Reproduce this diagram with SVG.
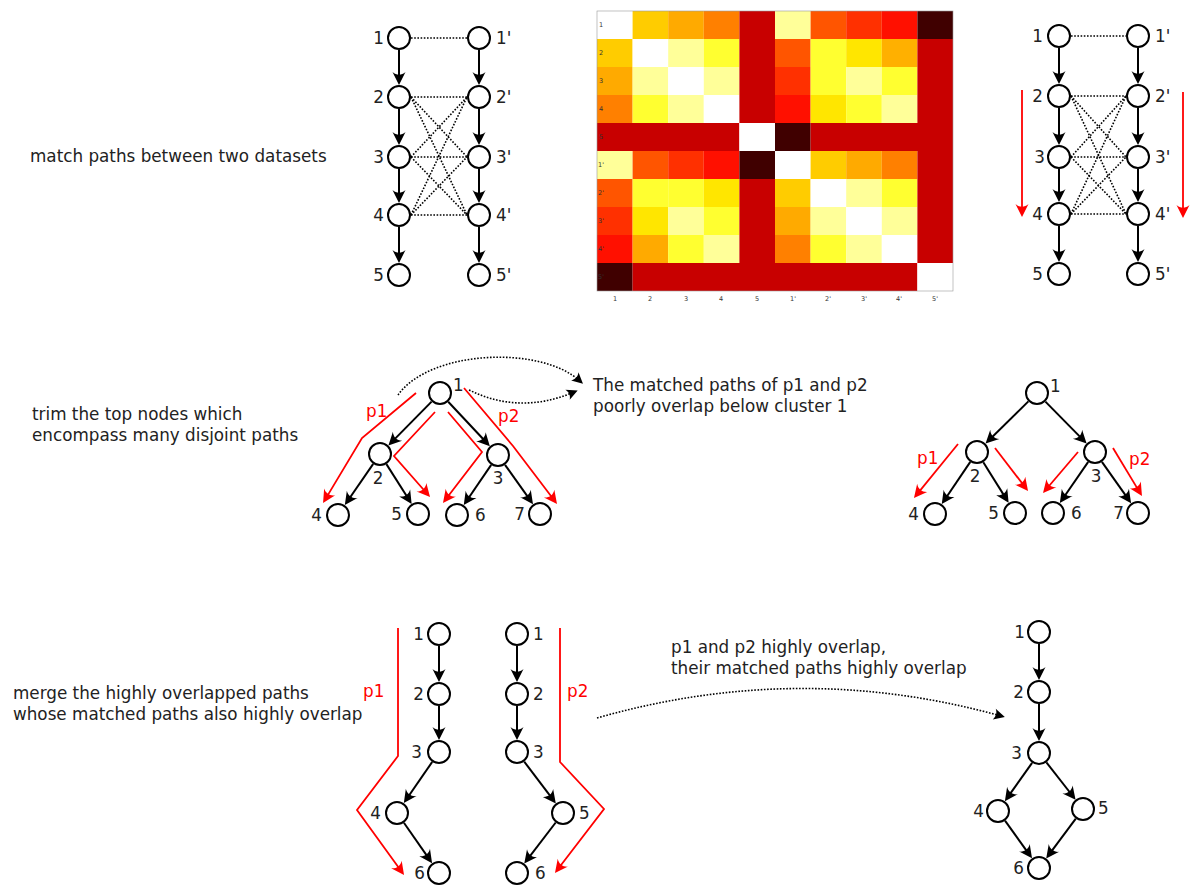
<svg xmlns="http://www.w3.org/2000/svg" width="1192" height="886" viewBox="0 0 1192 886">
<style>
text{font-family:"DejaVu Sans","Liberation Sans",sans-serif;font-size:16.8px;fill:#222}
.n{fill:#fff;stroke:#000;stroke-width:2}
.e{fill:none;stroke:#000;stroke-width:2;marker-end:url(#ah)}
.d{fill:none;stroke:#000;stroke-width:1.6;stroke-dasharray:1.6 1.6}
.da{fill:none;stroke:#000;stroke-width:1.6;stroke-dasharray:1.6 1.6;marker-end:url(#ahs)}
.r{fill:none;stroke:#f00;stroke-width:1.8;marker-end:url(#ahr)}
.rt{fill:#f00}
.tk{font-size:6.5px;fill:#333;text-anchor:middle}
.s{text-anchor:start}.m{text-anchor:middle}.en{text-anchor:end}
</style>
<defs>
<marker id="ah" markerUnits="userSpaceOnUse" viewBox="-10 -8 16 16" refX="0" refY="0" markerWidth="16" markerHeight="16" orient="auto"><path d="M4,0 L-9,-6.5 C-5.5,-2.5 -5.5,2.5 -9,6.5 Z" fill="#000"/></marker>
<marker id="ahr" markerUnits="userSpaceOnUse" viewBox="-10 -8 16 16" refX="0" refY="0" markerWidth="16" markerHeight="16" orient="auto"><path d="M4,0 L-9,-6.5 C-5.5,-2.5 -5.5,2.5 -9,6.5 Z" fill="#f00"/></marker>
<marker id="ahs" markerUnits="userSpaceOnUse" viewBox="-10 -8 16 16" refX="0" refY="0" markerWidth="16" markerHeight="16" orient="auto"><path d="M4,0 L-7,-5.5 C-4.5,-2 -4.5,2 -7,5.5 Z" fill="#000"/></marker>
</defs>

<!-- left descriptions -->
<text x="30" y="162">match paths between two datasets</text>
<text x="32" y="420">trim the top nodes which</text>
<text x="32" y="441">encompass many disjoint paths</text>
<text x="13" y="699">merge the highly overlapped paths</text>
<text x="13" y="720">whose matched paths also highly overlap</text>
<text x="593" y="391">The matched paths of p1 and p2</text>
<text x="593" y="412">poorly overlap below cluster 1</text>
<text x="671" y="653">p1 and p2 highly overlap,</text>
<text x="671" y="674">their matched paths highly overlap</text>

<!-- heatmap -->
<g id="heatmap">
<g stroke="none">
<rect x="597" y="11" width="35.6" height="28" fill="#ffffff"/>
<rect x="632.6" y="11" width="35.6" height="28" fill="#ffcc00"/>
<rect x="668.2" y="11" width="35.6" height="28" fill="#ffaa00"/>
<rect x="703.8" y="11" width="35.6" height="28" fill="#ff8000"/>
<rect x="739.4" y="11" width="35.6" height="28" fill="#c80000"/>
<rect x="775" y="11" width="35.6" height="28" fill="#ffff99"/>
<rect x="810.6" y="11" width="35.6" height="28" fill="#ff5500"/>
<rect x="846.2" y="11" width="35.6" height="28" fill="#ff3000"/>
<rect x="881.8" y="11" width="35.6" height="28" fill="#ff1000"/>
<rect x="917.4" y="11" width="35.6" height="28" fill="#400000"/>
<rect x="597" y="39" width="35.6" height="28" fill="#ffcc00"/>
<rect x="632.6" y="39" width="35.6" height="28" fill="#ffffff"/>
<rect x="668.2" y="39" width="35.6" height="28" fill="#ffff99"/>
<rect x="703.8" y="39" width="35.6" height="28" fill="#ffff30"/>
<rect x="739.4" y="39" width="35.6" height="28" fill="#c80000"/>
<rect x="775" y="39" width="35.6" height="28" fill="#ff5500"/>
<rect x="810.6" y="39" width="35.6" height="28" fill="#ffff30"/>
<rect x="846.2" y="39" width="35.6" height="28" fill="#ffe600"/>
<rect x="881.8" y="39" width="35.6" height="28" fill="#ffb000"/>
<rect x="917.4" y="39" width="35.6" height="28" fill="#c80000"/>
<rect x="597" y="67" width="35.6" height="28" fill="#ffaa00"/>
<rect x="632.6" y="67" width="35.6" height="28" fill="#ffff99"/>
<rect x="668.2" y="67" width="35.6" height="28" fill="#ffffff"/>
<rect x="703.8" y="67" width="35.6" height="28" fill="#ffff99"/>
<rect x="739.4" y="67" width="35.6" height="28" fill="#c80000"/>
<rect x="775" y="67" width="35.6" height="28" fill="#ff3000"/>
<rect x="810.6" y="67" width="35.6" height="28" fill="#ffff30"/>
<rect x="846.2" y="67" width="35.6" height="28" fill="#ffff99"/>
<rect x="881.8" y="67" width="35.6" height="28" fill="#ffff30"/>
<rect x="917.4" y="67" width="35.6" height="28" fill="#c80000"/>
<rect x="597" y="95" width="35.6" height="28" fill="#ff8000"/>
<rect x="632.6" y="95" width="35.6" height="28" fill="#ffff30"/>
<rect x="668.2" y="95" width="35.6" height="28" fill="#ffff99"/>
<rect x="703.8" y="95" width="35.6" height="28" fill="#ffffff"/>
<rect x="739.4" y="95" width="35.6" height="28" fill="#c80000"/>
<rect x="775" y="95" width="35.6" height="28" fill="#ff1000"/>
<rect x="810.6" y="95" width="35.6" height="28" fill="#ffe600"/>
<rect x="846.2" y="95" width="35.6" height="28" fill="#ffff30"/>
<rect x="881.8" y="95" width="35.6" height="28" fill="#ffff99"/>
<rect x="917.4" y="95" width="35.6" height="28" fill="#c80000"/>
<rect x="597" y="123" width="142.4" height="28" fill="#c80000"/>
<rect x="739.4" y="123" width="35.6" height="28" fill="#ffffff"/>
<rect x="775" y="123" width="35.6" height="28" fill="#400000"/>
<rect x="810.6" y="123" width="142.4" height="28" fill="#c80000"/>
<rect x="597" y="151" width="35.6" height="28" fill="#ffff99"/>
<rect x="632.6" y="151" width="35.6" height="28" fill="#ff5500"/>
<rect x="668.2" y="151" width="35.6" height="28" fill="#ff3000"/>
<rect x="703.8" y="151" width="35.6" height="28" fill="#ff1000"/>
<rect x="739.4" y="151" width="35.6" height="28" fill="#400000"/>
<rect x="775" y="151" width="35.6" height="28" fill="#ffffff"/>
<rect x="810.6" y="151" width="35.6" height="28" fill="#ffcc00"/>
<rect x="846.2" y="151" width="35.6" height="28" fill="#ffaa00"/>
<rect x="881.8" y="151" width="35.6" height="28" fill="#ff8000"/>
<rect x="917.4" y="151" width="35.6" height="28" fill="#c80000"/>
<rect x="597" y="179" width="35.6" height="28" fill="#ff5500"/>
<rect x="632.6" y="179" width="35.6" height="28" fill="#ffff30"/>
<rect x="668.2" y="179" width="35.6" height="28" fill="#ffff30"/>
<rect x="703.8" y="179" width="35.6" height="28" fill="#ffe600"/>
<rect x="739.4" y="179" width="35.6" height="28" fill="#c80000"/>
<rect x="775" y="179" width="35.6" height="28" fill="#ffcc00"/>
<rect x="810.6" y="179" width="35.6" height="28" fill="#ffffff"/>
<rect x="846.2" y="179" width="35.6" height="28" fill="#ffff99"/>
<rect x="881.8" y="179" width="35.6" height="28" fill="#ffff30"/>
<rect x="917.4" y="179" width="35.6" height="28" fill="#c80000"/>
<rect x="597" y="207" width="35.6" height="28" fill="#ff3000"/>
<rect x="632.6" y="207" width="35.6" height="28" fill="#ffe600"/>
<rect x="668.2" y="207" width="35.6" height="28" fill="#ffff99"/>
<rect x="703.8" y="207" width="35.6" height="28" fill="#ffff30"/>
<rect x="739.4" y="207" width="35.6" height="28" fill="#c80000"/>
<rect x="775" y="207" width="35.6" height="28" fill="#ffaa00"/>
<rect x="810.6" y="207" width="35.6" height="28" fill="#ffff99"/>
<rect x="846.2" y="207" width="35.6" height="28" fill="#ffffff"/>
<rect x="881.8" y="207" width="35.6" height="28" fill="#ffff99"/>
<rect x="917.4" y="207" width="35.6" height="28" fill="#c80000"/>
<rect x="597" y="235" width="35.6" height="28" fill="#ff1000"/>
<rect x="632.6" y="235" width="35.6" height="28" fill="#ffaa00"/>
<rect x="668.2" y="235" width="35.6" height="28" fill="#ffff30"/>
<rect x="703.8" y="235" width="35.6" height="28" fill="#ffff99"/>
<rect x="739.4" y="235" width="35.6" height="28" fill="#c80000"/>
<rect x="775" y="235" width="35.6" height="28" fill="#ff8000"/>
<rect x="810.6" y="235" width="35.6" height="28" fill="#ffff30"/>
<rect x="846.2" y="235" width="35.6" height="28" fill="#ffff99"/>
<rect x="881.8" y="235" width="35.6" height="28" fill="#ffffff"/>
<rect x="917.4" y="235" width="35.6" height="28" fill="#c80000"/>
<rect x="597" y="263" width="35.6" height="28" fill="#400000"/>
<rect x="632.6" y="263" width="284.8" height="28" fill="#c80000"/>
<rect x="917.4" y="263" width="35.6" height="28" fill="#ffffff"/>
</g>
<rect x="597" y="11" width="356" height="280" fill="none" stroke="#999" stroke-width="0.6"/>
<g class="tk">
<text class="tk" x="601" y="27">1</text>
<text class="tk" x="601" y="55">2</text>
<text class="tk" x="601" y="83">3</text>
<text class="tk" x="601" y="111">4</text>
<text class="tk" x="601" y="139">5</text>
<text class="tk" x="601" y="167">1'</text>
<text class="tk" x="601" y="195">2'</text>
<text class="tk" x="601" y="223">3'</text>
<text class="tk" x="601" y="251">4'</text>
<text class="tk" x="601" y="279">5'</text>
<text class="tk" x="615" y="301">1</text>
<text class="tk" x="650" y="301">2</text>
<text class="tk" x="686" y="301">3</text>
<text class="tk" x="721" y="301">4</text>
<text class="tk" x="757" y="301">5</text>
<text class="tk" x="793" y="301">1'</text>
<text class="tk" x="828" y="301">2'</text>
<text class="tk" x="864" y="301">3'</text>
<text class="tk" x="899" y="301">4'</text>
<text class="tk" x="935" y="301">5'</text>
</g>
</g>

<!-- connectors -->
<g id="connectors">
<line class="e" x1="399" y1="50" x2="399" y2="81"/>
<line class="e" x1="399" y1="109" x2="399" y2="141"/>
<line class="e" x1="399" y1="169" x2="399" y2="199"/>
<line class="e" x1="399" y1="227" x2="399" y2="259"/>
<line class="e" x1="479" y1="50" x2="479" y2="81"/>
<line class="e" x1="479" y1="109" x2="479" y2="141"/>
<line class="e" x1="479" y1="169" x2="479" y2="199"/>
<line class="e" x1="479" y1="227" x2="479" y2="259"/>
<line class="d" x1="411" y1="38" x2="467" y2="38"/>
<line class="d" x1="411" y1="97" x2="467" y2="97"/>
<line class="d" x1="411" y1="97" x2="467" y2="157"/>
<line class="d" x1="411" y1="97" x2="467" y2="215"/>
<line class="d" x1="411" y1="157" x2="467" y2="97"/>
<line class="d" x1="411" y1="157" x2="467" y2="157"/>
<line class="d" x1="411" y1="157" x2="467" y2="215"/>
<line class="d" x1="411" y1="215" x2="467" y2="97"/>
<line class="d" x1="411" y1="215" x2="467" y2="157"/>
<line class="d" x1="411" y1="215" x2="467" y2="215"/>
<line class="e" x1="1059" y1="48" x2="1059" y2="80"/>
<line class="e" x1="1059" y1="108" x2="1059" y2="141"/>
<line class="e" x1="1059" y1="169" x2="1059" y2="198"/>
<line class="e" x1="1059" y1="226" x2="1059" y2="258"/>
<line class="e" x1="1138" y1="48" x2="1138" y2="80"/>
<line class="e" x1="1138" y1="108" x2="1138" y2="141"/>
<line class="e" x1="1138" y1="169" x2="1138" y2="198"/>
<line class="e" x1="1138" y1="226" x2="1138" y2="258"/>
<line class="d" x1="1071" y1="36" x2="1126" y2="36"/>
<line class="d" x1="1071" y1="96" x2="1126" y2="96"/>
<line class="d" x1="1071" y1="96" x2="1126" y2="157"/>
<line class="d" x1="1071" y1="96" x2="1126" y2="214"/>
<line class="d" x1="1071" y1="157" x2="1126" y2="96"/>
<line class="d" x1="1071" y1="157" x2="1126" y2="157"/>
<line class="d" x1="1071" y1="157" x2="1126" y2="214"/>
<line class="d" x1="1071" y1="214" x2="1126" y2="96"/>
<line class="d" x1="1071" y1="214" x2="1126" y2="157"/>
<line class="d" x1="1071" y1="214" x2="1126" y2="214"/>
<line class="r" x1="1022" y1="90" x2="1022" y2="213"/>
<line class="r" x1="1183" y1="92" x2="1183" y2="214"/>

<line class="e" x1="431.6" y1="401.6" x2="391.2" y2="442.6"/>
<line class="e" x1="448.2" y1="401.8" x2="487.1" y2="443.3"/>
<line class="e" x1="373.2" y1="463.9" x2="347.1" y2="501.8"/>
<line class="e" x1="386.4" y1="464.1" x2="409.5" y2="500.5"/>
<line class="e" x1="491.2" y1="464.9" x2="466.0" y2="501.8"/>
<line class="e" x1="505" y1="464.8" x2="530.7" y2="500.9"/>
<polyline class="r" points="416,393 362,438 325.1,499.6"/>
<polyline class="r" points="435,412 394,456 427.4,494"/>
<polyline class="r" points="448,412 482,452 445.4,499.8"/>
<polyline class="r" points="464,388 513,446 554.6,500.8"/>
<path class="da" d="M398,395 C430,350 540,345 580,381"/>
<path class="da" d="M469,390 Q520,415 574,392"/>

<line class="e" x1="1028.4" y1="401.4" x2="988.4" y2="440.8"/>
<line class="e" x1="1045.4" y1="401.6" x2="1083.8" y2="440.6"/>
<line class="e" x1="970.3" y1="461.9" x2="944" y2="500.8"/>
<line class="e" x1="983.3" y1="462.2" x2="1006.5" y2="499.4"/>
<line class="e" x1="1088.2" y1="461.9" x2="1062.1" y2="499.8"/>
<line class="e" x1="1101.9" y1="461.8" x2="1128.8" y2="499.9"/>
<line class="r" x1="958" y1="444" x2="916.5" y2="494.9"/>
<line class="r" x1="995" y1="448" x2="1025.6" y2="487.8"/>
<line class="r" x1="1078" y1="452" x2="1045.6" y2="490"/>
<line class="r" x1="1113" y1="448" x2="1139.9" y2="492.6"/>

<line class="e" x1="439" y1="646" x2="439" y2="678"/>
<line class="e" x1="439" y1="706" x2="439" y2="736"/>
<line class="e" x1="432.2" y1="761.9" x2="406.1" y2="799.8"/>
<line class="e" x1="403.9" y1="822.8" x2="429.8" y2="859.9"/>
<line class="e" x1="517" y1="646" x2="517" y2="678"/>
<line class="e" x1="517" y1="706" x2="517" y2="736"/>
<line class="e" x1="524.2" y1="761.6" x2="553.4" y2="800.2"/>
<line class="e" x1="555.7" y1="822.5" x2="526.7" y2="860.3"/>
<polyline class="r" points="398,628 398,756 357,810 401.7,871.8"/>
<polyline class="r" points="560,628 560,762 604,809 557.4,869.8"/>
<path class="da" d="M597,718 Q800,660 1001,716"/>

<line class="e" x1="1039" y1="644" x2="1039" y2="676"/>
<line class="e" x1="1039" y1="704" x2="1039" y2="737"/>
<line class="e" x1="1032.1" y1="762.8" x2="1007.2" y2="797.9"/>
<line class="e" x1="1046.4" y1="762.4" x2="1073.1" y2="796.5"/>
<line class="e" x1="1005" y1="820.7" x2="1029.7" y2="855.1"/>
<line class="e" x1="1075.8" y1="818.6" x2="1048.6" y2="855.2"/>
</g>

<!-- red labels -->
<text class="rt" x="366" y="417">p1</text>
<text class="rt" x="498" y="422">p2</text>
<text class="rt" x="917" y="464">p1</text>
<text class="rt" x="1129" y="465">p2</text>
<text class="rt" x="363" y="697">p1</text>
<text class="rt" x="567" y="697">p2</text>

<g id="tl-1"><circle class="n" cx="399" cy="38" r="11"/><text class="en" x="384" y="44">1</text></g>
<g id="tl-2"><circle class="n" cx="399" cy="97" r="11"/><text class="en" x="384" y="103">2</text></g>
<g id="tl-3"><circle class="n" cx="399" cy="157" r="11"/><text class="en" x="384" y="163">3</text></g>
<g id="tl-4"><circle class="n" cx="399" cy="215" r="11"/><text class="en" x="384" y="221">4</text></g>
<g id="tl-5"><circle class="n" cx="399" cy="275" r="11"/><text class="en" x="384" y="281">5</text></g>
<g id="tl-1p"><circle class="n" cx="479" cy="38" r="11"/><text class="s" x="496" y="44">1'</text></g>
<g id="tl-2p"><circle class="n" cx="479" cy="97" r="11"/><text class="s" x="496" y="103">2'</text></g>
<g id="tl-3p"><circle class="n" cx="479" cy="157" r="11"/><text class="s" x="496" y="163">3'</text></g>
<g id="tl-4p"><circle class="n" cx="479" cy="215" r="11"/><text class="s" x="496" y="221">4'</text></g>
<g id="tl-5p"><circle class="n" cx="479" cy="275" r="11"/><text class="s" x="496" y="281">5'</text></g>

<g id="tr-1"><circle class="n" cx="1059" cy="36" r="11"/><text class="en" x="1043" y="42">1</text></g>
<g id="tr-2"><circle class="n" cx="1059" cy="96" r="11"/><text class="en" x="1043" y="102">2</text></g>
<g id="tr-3"><circle class="n" cx="1059" cy="157" r="11"/><text class="en" x="1045" y="163">3</text></g>
<g id="tr-4"><circle class="n" cx="1059" cy="214" r="11"/><text class="en" x="1043" y="220">4</text></g>
<g id="tr-5"><circle class="n" cx="1059" cy="274" r="11"/><text class="en" x="1043" y="280">5</text></g>
<g id="tr-1p"><circle class="n" cx="1138" cy="36" r="11"/><text class="s" x="1155" y="42">1'</text></g>
<g id="tr-2p"><circle class="n" cx="1138" cy="96" r="11"/><text class="s" x="1155" y="102">2'</text></g>
<g id="tr-3p"><circle class="n" cx="1138" cy="157" r="11"/><text class="s" x="1155" y="163">3'</text></g>
<g id="tr-4p"><circle class="n" cx="1138" cy="214" r="11"/><text class="s" x="1155" y="220">4'</text></g>
<g id="tr-5p"><circle class="n" cx="1138" cy="274" r="11"/><text class="s" x="1155" y="280">5'</text></g>

<g id="ml-1"><circle class="n" cx="440" cy="393" r="11"/><text class="s" x="453" y="391">1</text></g>
<g id="ml-2"><circle class="n" cx="380" cy="454" r="11"/><text class="m" x="378" y="484">2</text></g>
<g id="ml-3"><circle class="n" cx="498" cy="455" r="11"/><text class="m" x="498" y="484">3</text></g>
<g id="ml-4"><circle class="n" cx="338" cy="515" r="11"/><text class="en" x="322" y="521">4</text></g>
<g id="ml-5"><circle class="n" cx="418" cy="514" r="11"/><text class="en" x="402" y="520">5</text></g>
<g id="ml-6"><circle class="n" cx="457" cy="515" r="11"/><text class="s" x="475" y="521">6</text></g>
<g id="ml-7"><circle class="n" cx="540" cy="514" r="11"/><text class="en" x="525" y="520">7</text></g>

<g id="mr-1"><circle class="n" cx="1037" cy="393" r="11"/><text class="s" x="1050" y="392">1</text></g>
<g id="mr-2"><circle class="n" cx="977" cy="452" r="11"/><text class="m" x="975" y="482">2</text></g>
<g id="mr-3"><circle class="n" cx="1095" cy="452" r="11"/><text class="m" x="1096" y="482">3</text></g>
<g id="mr-4"><circle class="n" cx="935" cy="514" r="11"/><text class="en" x="919" y="520">4</text></g>
<g id="mr-5"><circle class="n" cx="1015" cy="513" r="11"/><text class="en" x="999" y="519">5</text></g>
<g id="mr-6"><circle class="n" cx="1053" cy="513" r="11"/><text class="s" x="1071" y="519">6</text></g>
<g id="mr-7"><circle class="n" cx="1138" cy="513" r="11"/><text class="en" x="1124" y="519">7</text></g>

<g id="b1-1"><circle class="n" cx="439" cy="634" r="11"/><text class="en" x="424" y="640">1</text></g>
<g id="b1-2"><circle class="n" cx="439" cy="694" r="11"/><text class="en" x="424" y="700">2</text></g>
<g id="b1-3"><circle class="n" cx="439" cy="752" r="11"/><text class="en" x="422" y="758">3</text></g>
<g id="b1-4"><circle class="n" cx="397" cy="813" r="11"/><text class="en" x="381" y="819">4</text></g>
<g id="b1-6"><circle class="n" cx="439" cy="873" r="11"/><text class="en" x="425" y="879">6</text></g>

<g id="b2-1"><circle class="n" cx="517" cy="634" r="11"/><text class="s" x="533" y="640">1</text></g>
<g id="b2-2"><circle class="n" cx="517" cy="694" r="11"/><text class="s" x="533" y="700">2</text></g>
<g id="b2-3"><circle class="n" cx="517" cy="752" r="11"/><text class="s" x="533" y="758">3</text></g>
<g id="b2-5"><circle class="n" cx="563" cy="813" r="11"/><text class="s" x="579" y="819">5</text></g>
<g id="b2-6"><circle class="n" cx="517" cy="873" r="11"/><text class="s" x="535" y="879">6</text></g>

<g id="br-1"><circle class="n" cx="1039" cy="632" r="11"/><text class="en" x="1025" y="638">1</text></g>
<g id="br-2"><circle class="n" cx="1039" cy="692" r="11"/><text class="en" x="1024" y="698">2</text></g>
<g id="br-3"><circle class="n" cx="1039" cy="753" r="11"/><text class="en" x="1022" y="759">3</text></g>
<g id="br-4"><circle class="n" cx="998" cy="811" r="11"/><text class="en" x="984" y="817">4</text></g>
<g id="br-5"><circle class="n" cx="1083" cy="809" r="11"/><text class="s" x="1098" y="814">5</text></g>
<g id="br-6"><circle class="n" cx="1039" cy="868" r="11"/><text class="en" x="1024" y="874">6</text></g>
</svg>
